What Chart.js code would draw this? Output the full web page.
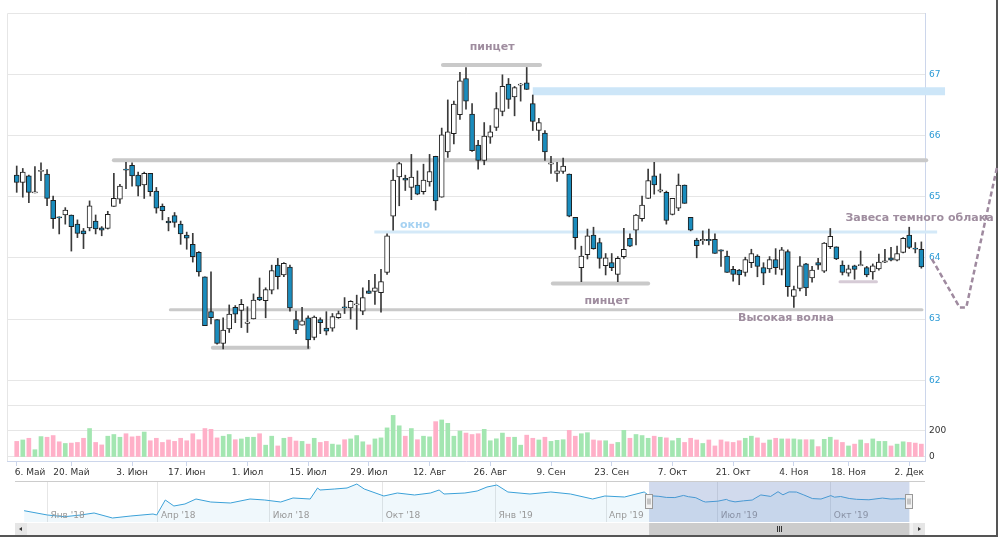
<!DOCTYPE html>
<html><head><meta charset="utf-8">
<script src="https://cdn.jsdelivr.net/npm/chart.js@4.4.1/dist/chart.umd.min.js"></script>
<style>
html,body{margin:0;padding:0;background:#fff;}
#wrap{position:relative;width:1000px;height:542px;overflow:hidden;}
#frame{position:absolute;left:0;top:0;width:996px;height:535px;border-right:2px solid #555;border-bottom:2px solid #555;}
#main{position:absolute;left:0;top:0;}
#nav{position:absolute;left:0;top:478px;}
</style></head>
<body><div id="wrap"><div id="frame"></div>
<canvas id="main" width="1000" height="478"></canvas>
<canvas id="nav" width="1000" height="60"></canvas></div>
<script>
// ---------- DATA ----------
const dates = ['2019-05-06','2019-05-07','2019-05-08','2019-05-10','2019-05-13','2019-05-14','2019-05-15','2019-05-16','2019-05-17','2019-05-20',
'2019-05-21','2019-05-22','2019-05-23','2019-05-24','2019-05-27','2019-05-28','2019-05-29','2019-05-30','2019-05-31','2019-06-03',
'2019-06-04','2019-06-05','2019-06-06','2019-06-07','2019-06-10','2019-06-11','2019-06-13','2019-06-14','2019-06-17','2019-06-18',
'2019-06-19','2019-06-20','2019-06-21','2019-06-24','2019-06-25','2019-06-26','2019-06-27','2019-06-28','2019-07-01','2019-07-02',
'2019-07-03','2019-07-04','2019-07-05','2019-07-08','2019-07-09','2019-07-10','2019-07-11','2019-07-12','2019-07-15','2019-07-16',
'2019-07-17','2019-07-18','2019-07-19','2019-07-22','2019-07-23','2019-07-24','2019-07-25','2019-07-26','2019-07-29','2019-07-30',
'2019-07-31','2019-08-01','2019-08-02','2019-08-05','2019-08-06','2019-08-07','2019-08-08','2019-08-09','2019-08-12','2019-08-13',
'2019-08-14','2019-08-15','2019-08-16','2019-08-19','2019-08-20','2019-08-21','2019-08-22','2019-08-23','2019-08-26','2019-08-27',
'2019-08-28','2019-08-29','2019-08-30','2019-09-02','2019-09-03','2019-09-04','2019-09-05','2019-09-06','2019-09-09','2019-09-10',
'2019-09-11','2019-09-12','2019-09-13','2019-09-16','2019-09-17','2019-09-18','2019-09-19','2019-09-20','2019-09-23','2019-09-24',
'2019-09-25','2019-09-26','2019-09-27','2019-09-30','2019-10-01','2019-10-02','2019-10-03','2019-10-04','2019-10-07','2019-10-08',
'2019-10-09','2019-10-10','2019-10-11','2019-10-14','2019-10-15','2019-10-16','2019-10-17','2019-10-18','2019-10-21','2019-10-22',
'2019-10-23','2019-10-24','2019-10-25','2019-10-28','2019-10-29','2019-10-30','2019-10-31','2019-11-01','2019-11-05','2019-11-06',
'2019-11-07','2019-11-08','2019-11-11','2019-11-12','2019-11-13','2019-11-14','2019-11-15','2019-11-18','2019-11-19','2019-11-20',
'2019-11-21','2019-11-22','2019-11-25','2019-11-26','2019-11-27','2019-11-28','2019-11-29','2019-12-02','2019-12-03','2019-12-04'];

const opens = [65.35,65.23,65.34,65.06,65.41,65.37,64.94,64.67,64.70,64.70,
64.55,64.44,64.49,64.60,64.49,64.48,64.84,64.96,65.45,65.51,
65.35,65.19,65.38,65.09,64.84,64.60,64.69,64.55,64.37,64.22,
64.09,63.69,63.12,62.99,62.60,62.84,63.19,63.14,62.93,63.00,
63.36,63.30,63.47,63.88,63.72,63.85,62.99,62.90,63.02,62.70,
62.99,62.85,62.85,63.02,63.20,63.18,63.23,63.13,63.46,63.45,
63.43,63.76,64.68,65.32,65.30,65.15,65.19,65.08,65.24,65.66,
64.99,65.73,66.03,66.34,66.93,66.35,65.84,65.59,65.97,66.13,
66.39,66.84,66.63,66.82,66.86,66.52,66.08,66.04,65.53,65.38,
65.41,65.37,64.66,63.84,64.05,64.37,64.25,63.87,63.92,63.73,
64.02,64.32,64.45,64.64,64.97,65.34,65.09,65.07,64.71,64.81,
65.19,64.66,64.29,64.28,64.30,64.30,64.13,64.03,63.81,63.80,
63.76,63.92,64.03,63.84,63.82,63.97,63.81,64.10,63.37,63.50,
63.90,63.67,63.92,63.78,64.18,64.18,63.88,63.75,63.87,63.87,
63.84,63.77,63.82,63.93,64.00,63.96,64.09,64.37,64.16,64.14];

const highs = [65.50,65.46,65.35,65.49,65.55,65.44,65.01,64.67,64.82,64.70,
64.62,64.48,64.93,64.70,64.51,64.76,65.38,65.20,65.56,65.55,
65.40,65.40,65.38,65.15,64.88,64.66,64.74,64.60,64.42,64.40,
64.10,63.69,63.77,62.99,63.02,63.23,63.22,63.32,63.20,63.41,
63.67,63.51,63.88,63.99,63.92,63.88,63.13,63.19,63.05,63.05,
63.02,63.12,63.09,63.13,63.35,63.30,63.39,63.51,63.63,63.73,
63.81,64.39,65.44,65.56,65.35,65.69,65.42,65.53,65.69,65.66,
66.12,66.58,66.56,67.03,67.11,66.52,65.92,66.21,66.16,66.70,
66.99,66.93,66.80,66.85,67.11,66.66,66.28,66.08,65.66,65.56,
65.63,65.37,64.66,64.19,64.47,64.50,64.32,64.07,64.07,64.02,
64.48,64.39,64.71,65.01,65.45,65.56,65.37,65.09,64.97,65.37,
65.19,64.66,64.32,64.44,64.47,64.39,64.13,64.11,63.86,63.81,
64.01,64.14,64.05,63.92,64.02,64.15,64.17,64.13,63.54,64.02,
63.91,63.86,63.99,64.25,64.48,64.18,63.95,63.88,63.88,64.11,
63.86,63.90,64.06,64.14,64.17,64.19,64.33,64.50,64.25,64.26];

const lows = [65.07,64.99,64.90,65.06,65.26,64.85,64.48,64.39,64.55,64.11,
64.33,64.15,64.44,64.39,64.36,64.47,64.84,64.89,65.13,65.17,
65.01,64.97,65.01,64.73,64.62,64.44,64.50,64.22,64.14,63.93,
63.70,62.89,62.92,62.59,62.51,62.78,62.94,62.86,62.78,63.00,
63.30,63.02,63.41,63.49,63.69,63.13,62.76,62.90,62.52,62.66,
62.76,62.74,62.80,63.01,63.09,63.00,62.83,63.07,63.42,63.24,
63.11,63.73,64.45,64.85,65.10,64.95,65.03,65.04,65.17,64.78,
64.99,65.64,65.86,66.26,66.43,65.74,65.45,65.52,65.87,66.08,
66.32,66.44,66.32,66.56,66.75,66.08,65.92,65.59,65.38,65.25,
65.38,64.67,64.14,63.61,63.98,64.14,63.83,63.72,63.79,63.61,
63.99,64.18,64.21,64.60,64.97,65.04,65.07,64.55,64.70,64.77,
64.89,64.44,64.00,64.22,64.21,64.07,63.86,63.76,63.62,63.56,
63.70,63.84,63.69,63.56,63.76,63.73,63.72,63.37,63.19,63.46,
63.38,63.60,63.81,63.76,64.15,63.97,63.72,63.70,63.65,63.87,
63.69,63.65,63.80,63.92,63.95,63.95,64.08,64.15,64.08,63.83];

const closes = [65.23,65.40,65.07,65.08,65.43,64.97,64.64,64.65,64.78,64.51,
64.40,64.39,64.85,64.47,64.45,64.71,64.97,65.17,65.43,65.34,
65.17,65.38,65.08,64.81,64.77,64.57,64.58,64.39,64.32,64.02,
63.77,62.89,63.02,62.60,62.82,63.08,63.08,63.24,62.95,63.31,
63.31,63.48,63.79,63.69,63.91,63.18,62.82,62.97,62.66,63.03,
62.94,62.80,63.04,63.09,63.18,63.29,63.25,63.35,63.42,63.51,
63.61,64.36,65.27,65.54,65.27,65.32,65.04,65.27,65.41,64.93,
66.01,66.06,66.51,66.89,66.56,65.75,65.59,65.99,66.06,66.44,
66.80,66.59,66.78,66.84,66.75,66.23,66.21,65.73,65.55,65.42,
65.50,64.68,64.33,64.03,64.36,64.15,63.99,64.00,63.84,63.99,
64.14,64.19,64.70,64.86,65.26,65.19,65.11,64.61,64.97,65.19,
64.89,64.45,64.20,64.30,64.28,64.07,64.11,63.76,63.73,63.72,
63.97,64.07,63.86,63.75,63.97,63.84,64.13,63.53,63.48,63.87,
63.51,63.80,63.88,64.24,64.35,63.98,63.76,63.82,63.81,63.89,
63.72,63.87,63.93,63.95,63.96,64.07,64.32,64.17,64.14,63.85];

const volumes = [120,131,144,56,157,152,165,117,104,107,
112,144,219,112,93,160,173,152,179,155,
160,192,125,144,112,131,120,144,125,179,
133,219,213,147,160,173,133,139,152,152,
179,91,160,85,144,152,123,120,99,144,
112,120,99,93,133,139,165,117,93,139,
147,224,320,240,160,219,133,160,155,272,
285,259,160,200,184,173,179,213,125,140,
184,152,152,91,168,144,131,152,120,128,
133,205,160,179,187,131,125,125,99,112,
205,144,173,165,144,160,152,147,125,144,
112,144,131,104,131,85,131,117,112,125,
144,160,147,107,131,144,139,139,139,133,
133,133,80,136,152,131,112,85,99,131,
104,139,120,120,85,99,117,112,107,99];

const xTickDates = ['2019-05-06','2019-05-20','2019-06-03','2019-06-17','2019-07-01','2019-07-15','2019-07-29','2019-08-12','2019-08-26','2019-09-09','2019-09-23','2019-10-07','2019-10-21','2019-11-04','2019-11-18','2019-12-02'];
const xTickLabels = ['6. Май','20. Май','3. Июн','17. Июн','1. Июл','15. Июл','29. Июл','12. Авг','26. Авг','9. Сен','23. Сен','7. Окт','21. Окт','4. Ноя','18. Ноя','2. Дек'];
const priceTicks = [62,63,64,65,66,67];
const volumeTicks = [0,200,400];
const volumeTickLabels = ['0','200',''];

const navDates = ['2017-12-13','2018-01-01','2018-01-15','2018-01-28','2018-02-08','2018-02-23','2018-03-10','2018-03-28','2018-03-31','2018-04-07',
'2018-04-14','2018-04-23','2018-05-02','2018-05-14','2018-05-30','2018-06-15','2018-06-27','2018-07-10','2018-07-20','2018-08-03',
'2018-08-09','2018-08-11','2018-08-23','2018-09-02','2018-09-10','2018-09-16','2018-10-02','2018-10-13','2018-10-27','2018-11-09',
'2018-11-16','2018-11-20','2018-12-07','2018-12-17','2018-12-25','2019-01-02','2019-01-11','2019-01-29','2019-02-15','2019-03-03',
'2019-03-21','2019-03-31','2019-04-16','2019-05-02','2019-05-06','2019-05-14','2019-05-20','2019-05-27','2019-06-03','2019-06-07',
'2019-06-13','2019-06-19','2019-06-21','2019-07-01','2019-07-08','2019-07-10','2019-07-15','2019-07-22','2019-07-29','2019-08-01',
'2019-08-05','2019-08-13','2019-08-19','2019-08-23','2019-08-28','2019-09-03','2019-09-09','2019-09-16','2019-09-23','2019-10-01',
'2019-10-04','2019-10-09','2019-10-16','2019-10-22','2019-11-01','2019-11-12','2019-11-19','2019-11-26','2019-12-04'];
const navValues = [58.98,57.18,56.48,57.18,58.02,55.93,56.77,57.60,57.18,63.43,
60.93,61.77,63.85,62.60,62.18,63.85,63.43,62.60,64.27,63.85,
68.43,67.60,68.02,68.43,70.10,68.02,65.10,66.35,65.52,66.35,
67.60,65.93,66.35,67.18,68.85,69.68,66.77,65.93,66.77,65.93,
63.85,65.10,64.68,66.77,65.23,64.97,64.51,64.45,65.34,64.81,
64.39,62.89,62.60,62.95,63.69,63.18,62.66,63.09,63.42,64.36,
65.54,64.93,66.89,65.59,66.80,66.75,65.55,64.03,63.84,65.26,
64.61,64.89,64.07,63.72,63.53,64.24,63.81,63.95,63.85];
const navTickDates = ['2018-01-01','2018-04-01','2018-07-01','2018-10-01','2019-01-01','2019-04-01','2019-07-01','2019-10-01'];
const navTickLabels = ["Янв '18","Апр '18","Июл '18","Окт '18","Янв '19","Апр '19","Июл '19","Окт '19"];

// annotations in data units (x = trading-day index, y = price)
const annoLines = [
  {x1:70.2, x2:86.2, y:67.15, w:4, color:'#c9c9c9', cap:'round'},
  {x1:16.0, x2:149.8, y:65.595, w:4, color:'#c9c9c9', cap:'round'},
  {x1:85.0, x2:152.9, y:66.72, w:8, color:'#cde6f8', cap:'butt'},
  {x1:58.9, x2:151.6, y:64.42, w:3, color:'#d4e9f8', cap:'butt'},
  {x1:25.3, x2:149.1, y:63.15, w:3, color:'#cacaca', cap:'round'},
  {x1:32.3, x2:48.1, y:62.53, w:4, color:'#c9c9c9', cap:'round'},
  {x1:88.3, x2:104.0, y:63.58, w:4, color:'#c9c9c9', cap:'round'},
  {x1:135.6, x2:141.6, y:63.61, w:3, color:'#d6cbd6', cap:'round'}
];
const annoTexts = [
  {text:'пинцет', x:78.3, y:67.44, color:'#9f8d9f'},
  {text:'окно', x:65.6, y:64.54, color:'#a6d2f2'},
  {text:'пинцет', x:97.2, y:63.30, color:'#9f8d9f'},
  {text:'Высокая волна', x:126.7, y:63.01, color:'#9f8d9f'},
  {text:'Завеса темного облака', x:148.7, y:64.64, color:'#9f8d9f'}
];
const annoPath = [[150.74,63.98],[155.3,63.19],[156.4,63.19],[161.45,65.475]];

// ---------- CHART ----------
const FONT = '"DejaVu Sans", sans-serif';
const BLUE = '#1a8cbd';
const idx = dates.map((d,i)=>i);
const isUp = closes.map((c,i)=> c >= opens[i]);
const xTickIdx = xTickDates.map(td => dates.findIndex(d => d >= td));

const annoPlugin = {
  id:'anno',
  beforeDatasetsDraw(chart){
    const {ctx, scales:{x,y}} = chart;
    ctx.save();
    annoLines.forEach(l=>{
      const py = y.getPixelForValue(l.y);
      ctx.beginPath(); ctx.lineWidth=l.w; ctx.strokeStyle=l.color; ctx.lineCap=l.cap;
      ctx.moveTo(x.getPixelForValue(l.x1), py); ctx.lineTo(x.getPixelForValue(l.x2), py); ctx.stroke();
    });
    ctx.restore();
  },
  afterDatasetsDraw(chart){
    const {ctx, scales:{x,y}} = chart;
    ctx.save();
    ctx.font = 'bold 11px ' + FONT; ctx.textAlign='center'; ctx.textBaseline='middle';
    annoTexts.forEach(t=>{ ctx.fillStyle=t.color; ctx.fillText(t.text, x.getPixelForValue(t.x), y.getPixelForValue(t.y)); });
    ctx.setLineDash([5,3]); ctx.lineWidth=2.5; ctx.strokeStyle='#9f8a9f'; ctx.lineCap='butt';
    ctx.beginPath();
    annoPath.forEach((p,i)=>{ const px=x.getPixelForValue(p[0]), py=y.getPixelForValue(p[1]); i?ctx.lineTo(px,py):ctx.moveTo(px,py); });
    ctx.stroke();
    ctx.restore();
  },
  beforeDraw(chart){
    const {ctx, chartArea:a} = chart;
    // keep the first x label inside the chart (left-justified at its tick), like the original
    const xs = chart.scales.x;
    const items = xs.getLabelItems(a);
    if (items.length) { items[0].options.textAlign = 'left'; items[0].options.translation[0] -= 2; }
    ctx.save(); ctx.strokeStyle='#e6e6e6'; ctx.lineWidth=1;
    ctx.beginPath(); ctx.moveTo(a.left+0.5, a.bottom); ctx.lineTo(a.left+0.5, a.top+0.5); ctx.lineTo(a.right, a.top+0.5); ctx.stroke();
    ctx.restore();
  }
};

new Chart(document.getElementById('main'), {
  type:'bar',
  data:{ datasets:[
    { label:'body', data: idx.map(i=>({x:i, y:[opens[i], closes[i]]})), yAxisID:'y', grouped:false, order:0,
      backgroundColor: isUp.map(u=> u ? '#ffffff' : BLUE), borderColor:'#1f1f1f', borderWidth:1, borderSkipped:false,
      barThickness:5, minBarLength:1 },
    { label:'wick', data: idx.map(i=>({x:i, y:[lows[i], highs[i]]})), yAxisID:'y', grouped:false, order:1,
      backgroundColor:'#3a3a3a', barThickness:1 },
    { label:'volume', data: idx.map(i=>({x:i, y:volumes[i]})), yAxisID:'yv', grouped:false, order:2,
      backgroundColor: isUp.map(u=> u ? '#a3e6b1' : '#ffb0c8'), barThickness:4 }
  ]},
  options:{
    responsive:false, animation:false, events:[],
    layout:{padding:{left:7, top:13, right:0, bottom:0}},
    plugins:{legend:{display:false}, tooltip:{enabled:false}},
    scales:{
      x:{ type:'linear', min:-1.6, max:149.6, offset:false,
        afterBuildTicks: s => { s.ticks = xTickIdx.map(v=>({value:v})); },
        afterFit: s => { s.height = 17; },
        grid:{ display:true, drawOnChartArea:false, drawTicks:true, tickLength:5, color:'#ccd6eb', offset:false },
        border:{ display:true, color:'#ccd6eb' },
        ticks:{ autoSkip:false, maxRotation:0, padding:1, color:'#333333', font:{family:FONT, size:9},
          callback: (v,i) => xTickLabels[i] } },
      y:{ type:'linear', position:'right', stack:'main', stackWeight:7, min:61.595, max:68.0,
        afterBuildTicks: s => { s.ticks = priceTicks.map(v=>({value:v})); },
        afterFit: s => { s.width = 75; },
        grid:{ color:'#e6e6e6', drawTicks:false }, border:{ display:true, color:'#ccd6eb' },
        ticks:{ padding:4, color:'#2b9ad6', font:{family:FONT, size:9}, callback: v => String(v) } },
      yv:{ type:'linear', position:'right', stack:'main', stackWeight:1, min:-30.8, max:400,
        afterBuildTicks: s => { s.ticks = volumeTicks.map(v=>({value:v})); },
        afterFit: s => { s.width = 75; },
        grid:{ color:'#e6e6e6', drawTicks:false }, border:{ display:true, color:'#ccd6eb' },
        ticks:{ padding:4, color:'#333333', font:{family:FONT, size:9}, callback: (v,i) => volumeTickLabels[i] } }
    }
  },
  plugins:[annoPlugin]
});

// ---------- NAVIGATOR ----------
const DAY0 = Date.parse('2018-01-01');
const dayOf = s => (Date.parse(s) - DAY0) / 86400000;

const navPlugin = {
  id:'navx',
  afterDatasetsDraw(chart){
    const {ctx, chartArea:a, scales:{x}} = chart;
    ctx.save();
    ctx.font = '9px ' + FONT; ctx.fillStyle = '#999999'; ctx.textAlign = 'left'; ctx.textBaseline = 'middle';
    navTickDates.forEach((d,i)=>{ ctx.fillText(navTickLabels[i], x.getPixelForValue(dayOf(d)) + 3, a.bottom - 6); });
    const x0 = x.getPixelForValue(dayOf(dates[0])), x1 = x.getPixelForValue(dayOf(dates[dates.length-1]));
    ctx.fillStyle='rgba(102,133,194,0.3)'; ctx.fillRect(x0, a.top, x1-x0, a.bottom-a.top);
    ctx.strokeStyle='#cccccc'; ctx.lineWidth=1;
    ctx.beginPath(); ctx.moveTo(a.left, a.top+0.5); ctx.lineTo(a.right, a.top+0.5); ctx.stroke();
    [x0,x1].forEach(h=>{
      const hx = Math.round(h)-3.5, hy = Math.round((a.top+a.bottom)/2)-7.5;
      ctx.fillStyle='#f2f2f2'; ctx.strokeStyle='#999999';
      ctx.fillRect(hx,hy,7,14); ctx.strokeRect(hx,hy,7,14);
      ctx.beginPath(); ctx.moveTo(hx+2.5,hy+4); ctx.lineTo(hx+2.5,hy+10); ctx.moveTo(hx+4.5,hy+4); ctx.lineTo(hx+4.5,hy+10); ctx.stroke();
    });
    const sy = a.bottom+1, sh = 12;
    ctx.fillStyle='#f2f2f2'; ctx.fillRect(a.left, sy, a.right-a.left, sh);
    ctx.fillStyle='#cccccc'; ctx.fillRect(x0, sy, x1-x0, sh);
    const cx = Math.round((x0+x1)/2);
    ctx.strokeStyle='#333333'; ctx.beginPath();
    [-2,0,2].forEach(d=>{ ctx.moveTo(cx+d+0.5, sy+3); ctx.lineTo(cx+d+0.5, sy+9); }); ctx.stroke();
    ctx.fillStyle='#e6e6e6'; ctx.fillRect(a.left, sy, 12, sh); ctx.fillRect(a.right-12, sy, 12, sh);
    ctx.fillStyle='#333333';
    ctx.beginPath(); ctx.moveTo(a.left+4, sy+6); ctx.lineTo(a.left+7, sy+4); ctx.lineTo(a.left+7, sy+8); ctx.fill();
    ctx.beginPath(); ctx.moveTo(a.right-4, sy+6); ctx.lineTo(a.right-7, sy+4); ctx.lineTo(a.right-7, sy+8); ctx.fill();
    ctx.restore();
  }
};

new Chart(document.getElementById('nav'), {
  type:'line',
  data:{ datasets:[{ data: navDates.map((d,i)=>({x:dayOf(d), y:navValues[i]})), borderColor:'#3ba1d8', borderWidth:1,
    pointRadius:0, tension:0, fill:'start', backgroundColor:'rgba(59,161,216,0.08)' }]},
  options:{
    responsive:false, animation:false, events:[],
    layout:{padding:{left:15, right:75, top:3, bottom:0}},
    plugins:{legend:{display:false}, tooltip:{enabled:false}},
    scales:{
      x:{ type:'linear', min:-26.4, max:714.7,
        afterBuildTicks: s => { s.ticks = navTickDates.map(d=>({value:dayOf(d)})); },
        afterFit: s => { s.height = 16; },
        grid:{ color:'#e6e6e6', drawTicks:false }, border:{display:false},
        ticks:{ display:false } },
      y:{ display:false, min:54.27, max:71.35 }
    }
  },
  plugins:[navPlugin]
});
</script></body></html>
